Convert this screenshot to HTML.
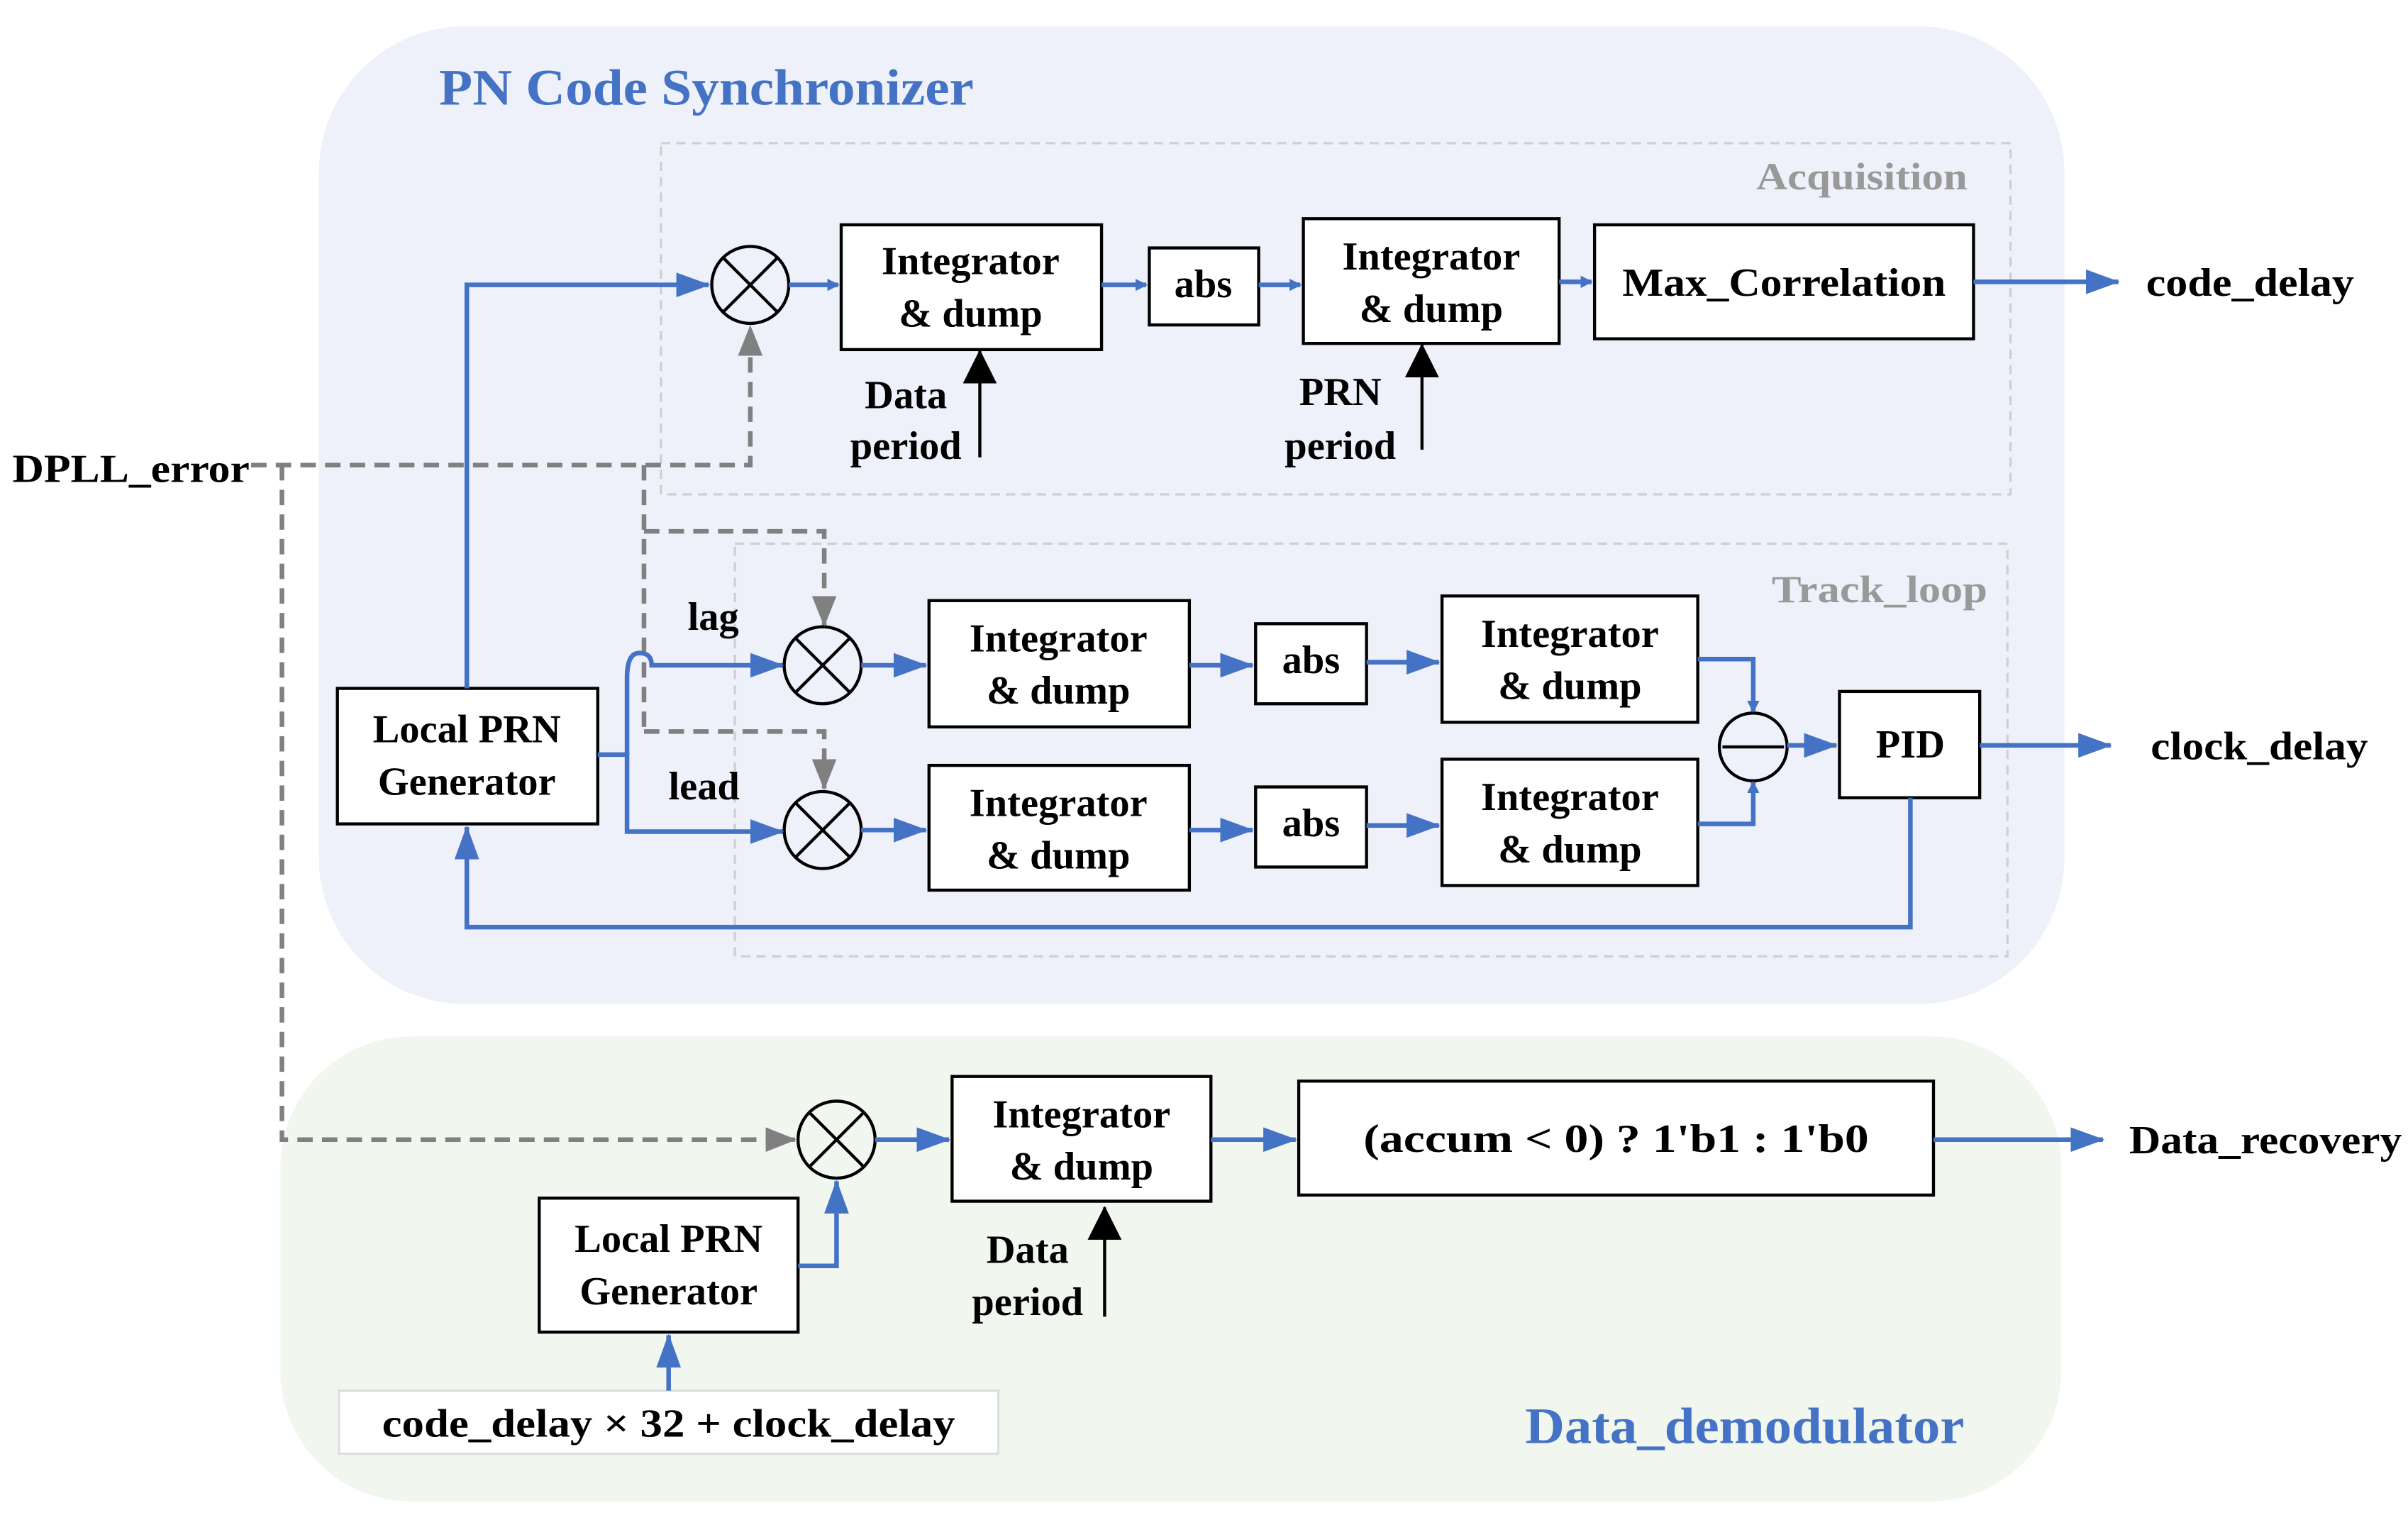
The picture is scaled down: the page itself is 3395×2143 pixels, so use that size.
<!DOCTYPE html>
<html><head><meta charset="utf-8"><style>html,body{margin:0;padding:0;background:#fff}svg{display:block}</style></head>
<body>
<svg width="3395" height="2143" viewBox="0 0 1563 987" preserveAspectRatio="none" xmlns="http://www.w3.org/2000/svg" font-family="Liberation Serif, serif" font-weight="bold">
<defs>
<marker id="b" markerWidth="8" markerHeight="8" refX="7" refY="4" orient="auto" markerUnits="userSpaceOnUse" viewBox="0 0 8 8"><path d="M0,0 L8,4 L0,8z" fill="#4472c4"/></marker>
<marker id="bb" markerWidth="22" markerHeight="16" refX="21" refY="8" orient="auto" markerUnits="userSpaceOnUse"><path d="M0,0 L22,8 L0,16z" fill="#4472c4"/></marker>
<marker id="g" markerWidth="20" markerHeight="16" refX="19" refY="8" orient="auto" markerUnits="userSpaceOnUse"><path d="M0,0 L20,8 L0,16z" fill="#808080"/></marker>
<marker id="k" markerWidth="22" markerHeight="22" refX="21" refY="11" orient="auto" markerUnits="userSpaceOnUse"><path d="M0,0 L22,11 L0,22z" fill="#000"/></marker>
</defs>
<rect x="207" y="17" width="1133" height="635" rx="95" fill="#eef1f9"/>
<rect x="182" y="673" width="1156" height="302" rx="85" fill="#f1f6ee"/>
<text x="285" y="68" font-size="33" fill="#4472c4" textLength="347" lengthAdjust="spacingAndGlyphs">PN Code Synchronizer</text>
<text x="990" y="937" font-size="33" fill="#4472c4" textLength="285" lengthAdjust="spacingAndGlyphs">Data_demodulator</text>
<rect x="429" y="93" width="876" height="228" fill="none" stroke="#cfcfcf" stroke-width="1.5" stroke-dasharray="6,4"/>
<rect x="477" y="353" width="826" height="268" fill="none" stroke="#cfcfcf" stroke-width="1.5" stroke-dasharray="6,4"/>
<text x="1140" y="123" font-size="25" fill="#999" textLength="137" lengthAdjust="spacingAndGlyphs">Acquisition</text>
<text x="1150" y="391" font-size="25" fill="#999" textLength="140" lengthAdjust="spacingAndGlyphs">Track_loop</text>

<g fill="#fff" stroke="#000" stroke-width="2">
<rect x="546" y="146" width="169" height="81"/>
<rect x="746" y="161" width="71" height="50"/>
<rect x="846" y="142" width="166" height="81"/>
<rect x="1035" y="146" width="246" height="74"/>
<rect x="219" y="447" width="169" height="88"/>
<rect x="603" y="390" width="169" height="82"/>
<rect x="603" y="497" width="169" height="81"/>
<rect x="815" y="405" width="72" height="52"/>
<rect x="815" y="511" width="72" height="52"/>
<rect x="936" y="387" width="166" height="82"/>
<rect x="936" y="493" width="166" height="82"/>
<rect x="1194" y="449" width="91" height="69"/>
<rect x="618" y="699" width="168" height="81"/>
<rect x="843" y="702" width="412" height="74"/>
<rect x="350" y="778" width="168" height="87"/>
</g>
<rect x="220" y="903" width="428" height="41" fill="#fff" stroke="#ddd" stroke-width="1.5"/>

<g fill="none" stroke="#000" stroke-width="2">
<circle cx="487" cy="185" r="25"/><path d="M469,167 L505,203 M505,167 L469,203"/>
<circle cx="534" cy="432" r="25"/><path d="M516,414 L552,450 M552,414 L516,450"/>
<circle cx="534" cy="539" r="25"/><path d="M516,521 L552,557 M552,521 L516,557"/>
<circle cx="543" cy="740" r="25"/><path d="M525,722 L561,758 M561,722 L525,758"/>
<circle cx="1138" cy="485" r="22"/><path d="M1118,485 H1158"/>
</g>

<g font-size="26" text-anchor="middle" fill="#000">
<text x="630" y="178">Integrator</text><text x="630" y="212">&amp; dump</text>
<text x="781" y="193">abs</text>
<text x="929" y="175">Integrator</text><text x="929" y="209">&amp; dump</text>
<text x="1158" y="192" textLength="210" lengthAdjust="spacingAndGlyphs">Max_Correlation</text>
<text x="303" y="482">Local PRN</text><text x="303" y="516">Generator</text>
<text x="687" y="423">Integrator</text><text x="687" y="457">&amp; dump</text>
<text x="687" y="530">Integrator</text><text x="687" y="564">&amp; dump</text>
<text x="851" y="437">abs</text><text x="851" y="543">abs</text>
<text x="1019" y="420">Integrator</text><text x="1019" y="454">&amp; dump</text>
<text x="1019" y="526">Integrator</text><text x="1019" y="560">&amp; dump</text>
<text x="1240" y="492">PID</text>
<text x="702" y="732">Integrator</text><text x="702" y="766">&amp; dump</text>
<text x="1049" y="748" textLength="328" lengthAdjust="spacingAndGlyphs">(accum &lt; 0)  ?  1'b1  :  1'b0</text>
<text x="434" y="813">Local PRN</text><text x="434" y="847">Generator</text>
<text x="434" y="933" textLength="372" lengthAdjust="spacingAndGlyphs">code_delay  × 32 + clock_delay</text>
<text x="588" y="265">Data</text><text x="588" y="298">period</text>
<text x="870" y="263">PRN</text><text x="870" y="298">period</text>
<text x="667" y="820">Data</text><text x="667" y="854">period</text>
<text x="463" y="409">lag</text><text x="457" y="519">lead</text>
</g>
<g font-size="26" fill="#000">
<text x="1393" y="192" textLength="135" lengthAdjust="spacingAndGlyphs">code_delay</text>
<text x="1396" y="493" textLength="141" lengthAdjust="spacingAndGlyphs">clock_delay</text>
<text x="1382" y="749" textLength="177" lengthAdjust="spacingAndGlyphs">Data_recovery</text>
<text x="8" y="313" textLength="154" lengthAdjust="spacingAndGlyphs">DPLL_error</text>
</g>

<g stroke="#000" stroke-width="2" fill="none">
<path d="M636,297 V228" marker-end="url(#k)"/>
<path d="M923,292 V224" marker-end="url(#k)"/>
<path d="M717,855 V784" marker-end="url(#k)"/>
</g>

<g stroke="#808080" stroke-width="3" fill="none" stroke-dasharray="10,6">
<path d="M163,302 H487 V212" marker-end="url(#g)"/>
<path d="M183,302 V740 H516" marker-end="url(#g)"/>
<path d="M418,302 V475"/>
<path d="M418,345 H535 V406" marker-end="url(#g)"/>
<path d="M418,475 H535 V512" marker-end="url(#g)"/>
</g>

<g stroke="#4472c4" stroke-width="3" fill="none">
<path d="M303,447 V185 H460" marker-end="url(#bb)"/>
<path d="M512,185 H544" marker-end="url(#b)"/>
<path d="M715,185 H744" marker-end="url(#b)"/>
<path d="M817,185 H844" marker-end="url(#b)"/>
<path d="M1012,183 H1033" marker-end="url(#b)"/>
<path d="M1281,183 H1375" marker-end="url(#bb)"/>
<path d="M388,490 H407 V540 H508" marker-end="url(#bb)"/>
<path d="M407,490 V440 Q407,424 415,424 Q423,424 423,432 H508" marker-end="url(#bb)"/>
<path d="M559,432 H601" marker-end="url(#bb)"/>
<path d="M559,539 H601" marker-end="url(#bb)"/>
<path d="M772,432 H813" marker-end="url(#bb)"/>
<path d="M772,539 H813" marker-end="url(#bb)"/>
<path d="M887,430 H934" marker-end="url(#bb)"/>
<path d="M887,536 H934" marker-end="url(#bb)"/>
<path d="M1102,428 H1138 V462" marker-end="url(#b)"/>
<path d="M1102,535 H1138 V508" marker-end="url(#b)"/>
<path d="M1160,484 H1192" marker-end="url(#bb)"/>
<path d="M1285,484 H1370" marker-end="url(#bb)"/>
<path d="M1240,518 V602 H303 V537" marker-end="url(#bb)"/>
<path d="M568,740 H616" marker-end="url(#bb)"/>
<path d="M786,740 H841" marker-end="url(#bb)"/>
<path d="M1255,740 H1365" marker-end="url(#bb)"/>
<path d="M518,822 H543 V767" marker-end="url(#bb)"/>
<path d="M434,903 V867" marker-end="url(#bb)"/>
</g>
</svg>
</body></html>
